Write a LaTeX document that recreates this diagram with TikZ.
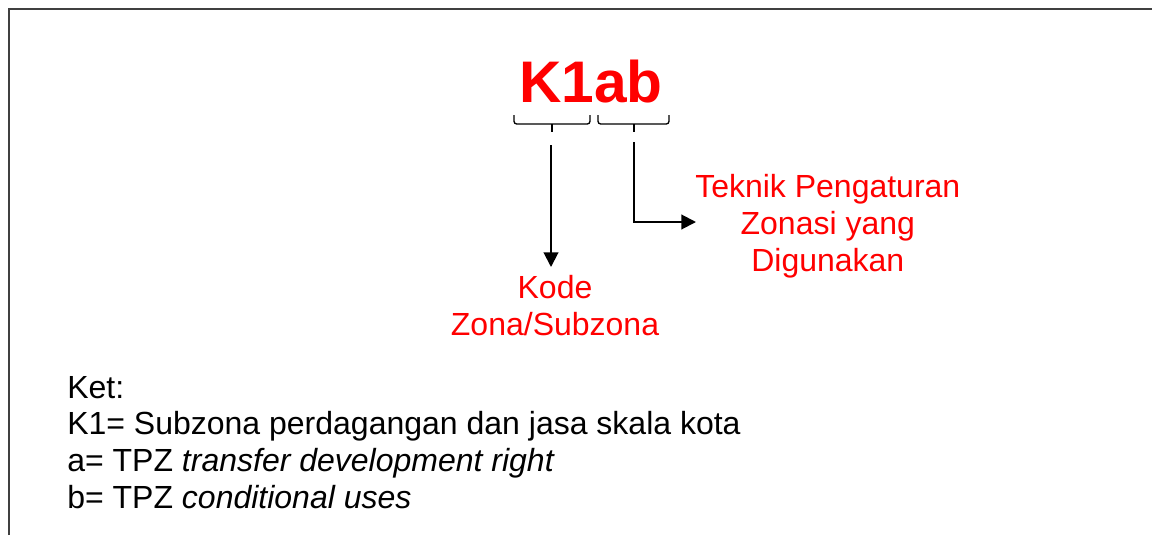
\documentclass[tikz,border=0pt]{standalone}
\usepackage{fontspec}
\setmainfont{Liberation Sans}
\usepackage{tikz}
\usetikzlibrary{arrows.meta}
\definecolor{zonered}{RGB}{255,0,0}
\definecolor{framegray}{RGB}{64,64,64}

\begin{document}
\begin{tikzpicture}[x=0.75pt,y=0.75pt,yscale=-1,xscale=1,
    redlabel/.style={inner sep=0pt, text=zonered, align=center, font=\fontsize{24}{27.8}\selectfont},
    arrowline/.style={line width=1.5pt, -{Triangle[length=11pt,width=11pt]}},
    bracket/.style={line width=1pt, rounded corners=2pt}]
    \useasboundingbox (0,0) rectangle (1152,535);

    %Frame (top and left only)
    \draw [color=framegray, line width=1pt] (9,535) -- (9,9) -- (1152,9) ;

    % Text Node
    \node (code) at (591,103) [anchor=base, inner sep=0pt, text=zonered, font=\fontsize{44}{50}\selectfont\bfseries] {K1ab};

    %Brackets under K1 and ab
    \draw [bracket] (514,115) |- (552,124) -| (590,115) ;
    \draw [line width=1pt] (552,124) -- (552,132) ;
    \draw [bracket] (598,115) |- (634,124) -| (669,115) ;
    \draw [line width=1pt] (634,124) -- (634,132) ;

    % Text Node
    \node (teknik) at (695,226) [redlabel, anchor=west] {Teknik Pengaturan\\Zonasi yang\\Digunakan};
    % Text Node
    \node (kode) at (555,275) [redlabel, anchor=north] {Kode\\Zona/Subzona};

    %Arrows
    \coordinate (k1start) at (551,145);
    \coordinate (abstart) at (634,142);
    \coordinate (kodetip) at (551,267);
    \coordinate (teknikttip) at (696,222);
    \draw [arrowline] (k1start) -- (kodetip) ;
    \draw [arrowline] (abstart) |- (teknikttip) ;

    % Text Node
    \node (ket) at (67,508) [anchor=base west, align=left, inner sep=0pt, font=\fontsize{24}{27.4}\selectfont] {Ket:\\K1= Subzona perdagangan dan jasa skala kota\\a= TPZ \textit{transfer development right}\\b= TPZ \textit{conditional uses}};

\end{tikzpicture}
\end{document}
